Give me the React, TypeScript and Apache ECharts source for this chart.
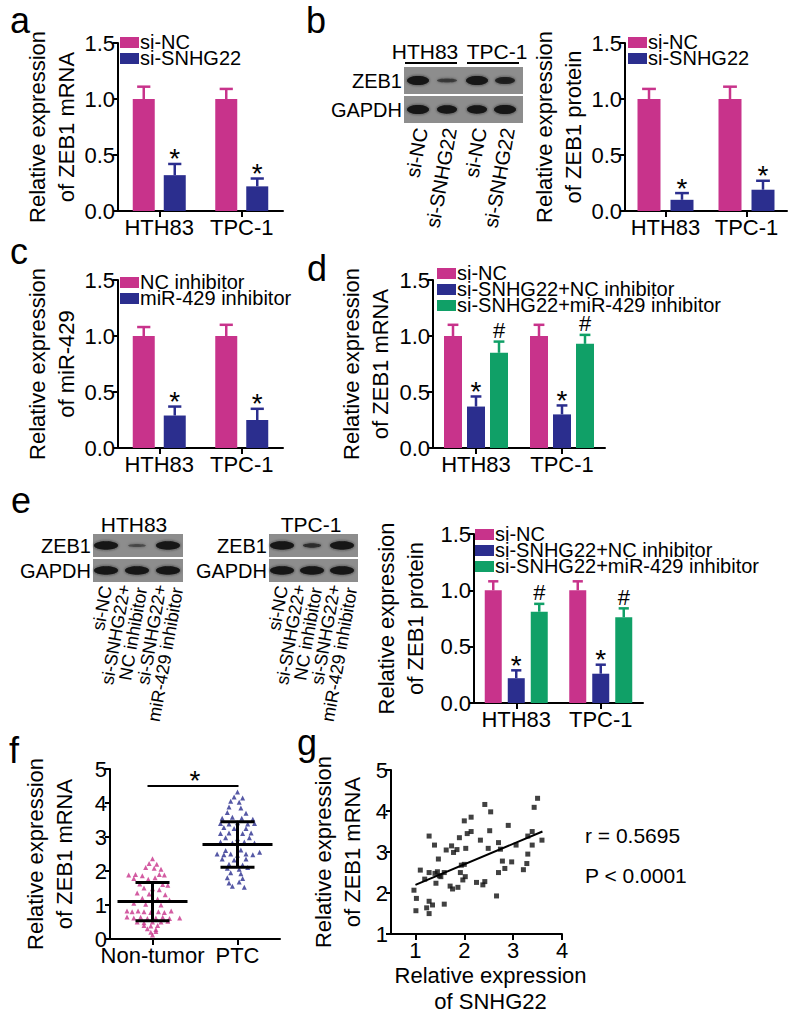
import React, { useEffect, useRef } from "react";
import * as echarts from "echarts";

const FONT = '"Liberation Sans", Arial, Helvetica, sans-serif';
const PINK = "#C8338B";
const NAVY = "#2B2E8E";
const GREEN = "#10A067";

const cellLines = ["HTH83", "TPC-1"];

// ---- panel a: ZEB1 mRNA after SNHG22 knockdown
const aNames = ["si-NC", "si-SNHG22"];
const aMeans = [[1.0, 1.0], [0.32, 0.22]];
const aErrs = [[0.11, 0.09], [0.10, 0.07]];
const aMarks = ["", "*"];

// ---- panel b: ZEB1 protein after SNHG22 knockdown
const bNames = ["si-NC", "si-SNHG22"];
const bMeans = [[1.0, 1.0], [0.10, 0.19]];
const bErrs = [[0.09, 0.11], [0.06, 0.08]];
const bMarks = ["", "*"];
const bLanes = ["si-NC", "si-SNHG22", "si-NC", "si-SNHG22"];

// ---- panel c: miR-429
const cNames = ["NC inhibitor", "miR-429 inhibitor"];
const cMeans = [[1.0, 1.0], [0.29, 0.25]];
const cErrs = [[0.08, 0.10], [0.08, 0.10]];
const cMarks = ["", "*"];

// ---- panel d: ZEB1 mRNA rescue
const dNames = ["si-NC", "si-SNHG22+NC inhibitor", "si-SNHG22+miR-429 inhibitor"];
const dMeans = [[1.0, 1.0], [0.37, 0.30], [0.85, 0.93]];
const dErrs = [[0.10, 0.10], [0.09, 0.08], [0.10, 0.08]];
const dMarks = ["", "*", "#"];

// ---- panel e: ZEB1 protein rescue
const eNames = ["si-NC", "si-SNHG22+NC inhibitor", "si-SNHG22+miR-429 inhibitor"];
const eMeans = [[1.0, 1.0], [0.22, 0.26], [0.81, 0.76]];
const eErrs = [[0.08, 0.08], [0.07, 0.08], [0.07, 0.08]];
const eMarks = ["", "*", "#"];
const eLanes = [["si-NC"], ["si-SNHG22+", "NC inhibitor"], ["si-SNHG22+", "miR-429 inhibitor"]];

// ---- panel f: tissues
const fGroups = ["Non-tumor", "PTC"];
const nonTumorValues = [
  2.36, 2.22, 2.2, 2.1, 2.08, 2.05, 1.88, 1.9, 1.86, 1.9, 1.88, 1.78, 1.76, 1.8,
  1.62, 1.6, 1.58, 1.5, 1.48, 1.45, 1.35, 1.32, 1.3, 1.2, 1.18, 1.15, 1.05, 1.02,
  1.0, 0.82, 0.8, 0.82, 0.8, 0.78, 0.8, 0.78, 0.82, 0.65, 0.62, 0.64, 0.6, 0.62,
  0.64, 0.6, 0.62, 0.5, 0.48, 0.5, 0.5, 0.52, 0.4, 0.38, 0.4, 0.3, 0.28, 0.2, 0.22, 0.12,
];
const nonTumorJitter = [
  0, -0.04, 0.05, -0.08, 0.02, 0.1, -0.28, -0.2, -0.12, 0.08, 0.14, -0.22, -0.05, 0.03,
  -0.15, 0.12, 0.18, -0.1, 0.0, 0.08, -0.18, -0.04, 0.15, -0.12, 0.06, 0.2, -0.22, -0.08,
  0.1, -0.3, -0.24, -0.17, -0.1, -0.02, 0.07, 0.14, 0.22, -0.3, -0.22, -0.14, -0.06, 0.04,
  0.12, 0.2, 0.32, -0.18, -0.1, 0.0, 0.1, 0.18, -0.1, -0.02, 0.06, -0.06, 0.04, -0.02, 0.04, 0.0,
];
const ptcValues = [
  4.32, 4.18, 4.15, 4.05, 4.02, 3.88, 3.85, 3.72, 3.7, 3.55, 3.58, 3.55, 3.52, 3.4,
  3.38, 3.42, 3.38, 3.4, 3.28, 3.25, 3.25, 3.1, 3.12, 3.1, 3.12, 2.98, 2.95, 2.98,
  2.85, 2.82, 2.85, 2.82, 2.5, 2.48, 2.5, 2.46, 2.5, 2.48, 2.55, 2.6, 2.62, 2.35,
  2.32, 2.35, 2.2, 2.18, 2.08, 2.05, 2.1, 1.95, 1.92, 1.8, 1.78, 1.65, 1.68, 1.55, 1.52,
];
const ptcJitter = [
  0.0, -0.04, 0.06, -0.08, 0.02, -0.1, 0.04, -0.12, 0.1, -0.18, -0.06, 0.05, 0.18, -0.2,
  -0.1, 0.0, 0.12, 0.2, -0.16, -0.04, 0.1, -0.2, -0.1, 0.06, 0.16, -0.14, 0.0, 0.14,
  -0.2, -0.06, 0.08, 0.2, -0.24, -0.16, -0.08, 0.0, 0.1, 0.18, 0.26, -0.14, 0.04, -0.18,
  -0.04, 0.1, -0.1, 0.06, -0.12, 0.02, 0.12, -0.08, 0.04, -0.12, 0.06, -0.1, 0.02, -0.06, 0.08,
];
const fMeans = [1.1, 2.78];
const fSDs = [0.56, 0.67];
const fSigLevel = 4.5;

// ---- panel g: correlation
const snhg22 = [
  0.97, 1.02, 1.01, 1.10, 1.19, 1.23, 1.28, 1.28, 1.28, 1.28, 1.35, 1.39, 1.40, 1.42,
  1.45, 1.47, 1.49, 1.52, 1.59, 1.59, 1.63, 1.71, 1.74, 1.76, 1.78, 1.85, 1.87, 1.90,
  1.92, 1.94, 1.97, 2.00, 2.00, 2.02, 2.03, 2.06, 2.14, 2.14, 2.25, 2.33, 2.38, 2.42,
  2.42, 2.49, 2.52, 2.54, 2.66, 2.70, 2.70, 2.74, 2.78, 2.83, 2.90, 2.97, 3.06, 3.21,
  3.28, 3.30, 3.30, 3.39, 3.39, 3.43, 3.50, 3.59,
];
const zeb1 = [
  2.07, 1.87, 1.57, 2.56, 2.34, 1.64, 3.39, 2.50, 1.80, 1.50, 1.71, 3.17, 2.48, 2.24,
  2.52, 2.83, 2.42, 2.40, 2.50, 1.73, 3.05, 2.17, 3.15, 2.10, 2.99, 3.06, 2.14, 3.35,
  2.50, 2.68, 2.32, 3.76, 2.70, 2.40, 3.09, 3.45, 3.50, 3.85, 2.26, 3.29, 2.20, 2.28,
  4.16, 3.09, 3.52, 3.98, 1.93, 2.50, 3.23, 3.07, 2.78, 2.60, 3.65, 2.76, 3.17, 2.57,
  2.72, 2.95, 3.39, 3.17, 3.50, 4.09, 4.31, 3.29,
];
const fitX = [1.0, 3.6];
const fitY = [2.2, 3.5];
const corrTexts = ["r = 0.5695", "P < 0.0001"];

type BarPanel = {
  grid: { left: number; top: number; width: number; height: number };
  names: string[];
  colors: string[];
  means: number[][];
  errs: number[][];
  marks: string[];
  yName: string;
  nameGap: number;
  barWidth: number;
  gapPx: number;
  legend: { left: number; top: number };
};

const barPanels: BarPanel[] = [
  {
    grid: { left: 118, top: 43, width: 165, height: 168 },
    names: aNames, colors: [PINK, NAVY], means: aMeans, errs: aErrs, marks: aMarks,
    yName: "Relative expression\nof ZEB1 mRNA", nameGap: 34, barWidth: 22, gapPx: 9,
    legend: { left: 120, top: 37 },
  },
  {
    grid: { left: 625, top: 43, width: 162, height: 168 },
    names: bNames, colors: [PINK, NAVY], means: bMeans, errs: bErrs, marks: bMarks,
    yName: "Relative expression\nof ZEB1 protein", nameGap: 36, barWidth: 23, gapPx: 10,
    legend: { left: 628, top: 37 },
  },
  {
    grid: { left: 118, top: 280, width: 165, height: 168 },
    names: cNames, colors: [PINK, NAVY], means: cMeans, errs: cErrs, marks: cMarks,
    yName: "Relative expression\nof miR-429", nameGap: 34, barWidth: 22, gapPx: 9,
    legend: { left: 120, top: 277 },
  },
  {
    grid: { left: 433, top: 280, width: 172, height: 168 },
    names: dNames, colors: [PINK, NAVY, GREEN], means: dMeans, errs: dErrs, marks: dMarks,
    yName: "Relative expression\nof ZEB1 mRNA", nameGap: 38, barWidth: 18, gapPx: 5,
    legend: { left: 437, top: 268 },
  },
  {
    grid: { left: 474, top: 534, width: 169, height: 169 },
    names: eNames, colors: [PINK, NAVY, GREEN], means: eMeans, errs: eErrs, marks: eMarks,
    yName: "Relative expression\nof ZEB1 protein", nameGap: 44, barWidth: 17, gapPx: 6,
    legend: { left: 475, top: 529 },
  },
];

const labelStyle = { color: "#000", fontSize: 22, fontFamily: FONT };
const axisLine = { show: true, lineStyle: { color: "#000", width: 2 } };
const axisTick = { show: true, length: 5, lineStyle: { color: "#000", width: 2 } };
const nameStyle = { color: "#000", fontSize: 22, fontFamily: FONT, lineHeight: 29 };

function txt(text: string, x: number, y: number, size: number, extra: any = {}) {
  const { align, valign, ...rest } = extra;
  return {
    type: "text",
    x,
    y,
    silent: true,
    ...rest,
    style: {
      text,
      fill: "#000",
      fontSize: size,
      fontFamily: FONT,
      textAlign: align || "left",
      textVerticalAlign: valign || "middle",
    },
  };
}

type Band = [number, number, number]; // half width, half height, opacity

function blot(
  x: number, y: number, w: number, rowH: number, gap: number,
  lanes: number[], zebBands: Band[], gapdhBands: Band[], labelSize: number
) {
  const els: any[] = [];
  els.push({ type: "rect", shape: { x, y, width: w, height: rowH }, style: { fill: "#8d8d8d" }, silent: true });
  els.push({ type: "rect", shape: { x, y: y + rowH + gap, width: w, height: rowH }, style: { fill: "#8d8d8d" }, silent: true });
  const rows: [Band[], number][] = [[zebBands, y + rowH / 2], [gapdhBands, y + rowH + gap + rowH / 2]];
  rows.forEach(([bands, cy]) => {
    bands.forEach((bd, i) => {
      els.push({
        type: "ellipse",
        shape: { cx: lanes[i], cy, rx: bd[0], ry: bd[1] },
        style: { fill: "#141414", opacity: bd[2], shadowBlur: 3, shadowColor: "rgba(20,20,20,0.8)" },
        silent: true,
      });
    });
  });
  els.push(txt("ZEB1", x - 2, y + rowH / 2, labelSize, { align: "right" }));
  els.push(txt("GAPDH", x - 2, y + rowH + gap + rowH / 2, labelSize, { align: "right" }));
  return els;
}

function legendEls(left: number, top: number, names: string[], colors: string[]) {
  const els: any[] = [];
  names.forEach((nm, i) => {
    const y = top + i * 16;
    els.push({ type: "rect", shape: { x: left, y, width: 19, height: 11 }, style: { fill: colors[i] }, silent: true });
    els.push(txt(nm, left + 20, y + 5, 20));
  });
  return els;
}

function buildOption() {
  const option: any = {
    animation: false,
    backgroundColor: "#fff",
    textStyle: { fontFamily: FONT },
    grid: [],
    xAxis: [],
    yAxis: [],
    series: [],
    graphic: { elements: [] as any[] },
  };
  const g: any[] = option.graphic.elements;

  barPanels.forEach((p, k) => {
    option.grid.push({ ...p.grid });
    option.xAxis.push({
      type: "category",
      gridIndex: k,
      data: cellLines,
      axisLine,
      axisTick: { ...axisTick, length: 6, alignWithLabel: true },
      axisLabel: { ...labelStyle, margin: 5, interval: 0 },
    });
    option.yAxis.push({
      type: "value",
      gridIndex: k,
      min: 0,
      max: 1.5,
      interval: 0.5,
      axisLine,
      axisTick,
      splitLine: { show: false },
      axisLabel: { ...labelStyle, margin: 3, formatter: (v: number) => v.toFixed(1) },
      name: p.yName,
      nameLocation: "middle",
      nameGap: p.nameGap,
      nameTextStyle: nameStyle,
    });
    const n = p.names.length;
    p.names.forEach((nm, j) => {
      option.series.push({
        type: "bar",
        name: nm,
        xAxisIndex: k,
        yAxisIndex: k,
        data: p.means[j],
        barWidth: p.barWidth,
        barGap: `${(p.gapPx / p.barWidth) * 100}%`,
        itemStyle: { color: p.colors[j] },
        z: 2,
      });
      const offset = (j - (n - 1) / 2) * (p.barWidth + p.gapPx);
      const color = p.colors[j];
      const mark = p.marks[j];
      const bw = p.barWidth;
      option.series.push({
        type: "custom",
        xAxisIndex: k,
        yAxisIndex: k,
        z: 3,
        data: p.means[j].map((m, i) => [i, m, p.errs[j][i]]),
        encode: { x: 0, y: 1 },
        renderItem: (_params: any, api: any) => {
          const i = api.value(0);
          const m = api.value(1);
          const e = api.value(2);
          const b = api.coord([i, m]);
          const t = api.coord([i, m + e]);
          const x = b[0] + offset;
          const cw = bw * 0.6;
          const children: any[] = [
            { type: "line", shape: { x1: x, y1: b[1], x2: x, y2: t[1] }, style: { stroke: color, lineWidth: 2.5 } },
            { type: "line", shape: { x1: x - cw / 2, y1: t[1], x2: x + cw / 2, y2: t[1] }, style: { stroke: color, lineWidth: 2.5 } },
          ];
          if (mark === "*") {
            children.push({ type: "text", x, y: t[1] - 5, style: { text: "*", fill: "#000", fontSize: 28, fontFamily: FONT, textAlign: "center", textVerticalAlign: "middle" } });
          } else if (mark) {
            children.push({ type: "text", x, y: t[1] - 11, style: { text: mark, fill: "#000", fontSize: 22, fontFamily: FONT, textAlign: "center", textVerticalAlign: "middle" } });
          }
          return { type: "group", children };
        },
      });
    });
    g.push(...legendEls(p.legend.left, p.legend.top, p.names, p.colors));
  });

  // ---- panel f (grid 5)
  option.grid.push({ left: 110, top: 769, width: 170, height: 170 });
  option.xAxis.push({
    type: "category",
    gridIndex: 5,
    data: fGroups,
    axisLine,
    axisTick: { ...axisTick, length: 6, alignWithLabel: true },
    axisLabel: { ...labelStyle, margin: 5, interval: 0 },
  });
  option.yAxis.push({
    type: "value",
    gridIndex: 5,
    min: 0,
    max: 5,
    interval: 1,
    axisLine,
    axisTick,
    splitLine: { show: false },
    axisLabel: { ...labelStyle, margin: 3 },
    name: "Relative expression\nof ZEB1 mRNA",
    nameLocation: "middle",
    nameGap: 31,
    nameTextStyle: nameStyle,
  });
  // ---- panel g (grid 6)
  option.grid.push({ left: 391, top: 770, width: 171, height: 169 });
  option.xAxis.push({
    type: "value",
    gridIndex: 6,
    min: 0.5,
    max: 4,
    axisLine,
    axisTick: { ...axisTick, length: 6, customValues: [1, 2, 3, 4] },
    axisLabel: { ...labelStyle, margin: 5, customValues: [1, 2, 3, 4] },
    splitLine: { show: false },
    name: "Relative expression\nof SNHG22",
    nameLocation: "middle",
    nameGap: 24,
    nameTextStyle: { ...nameStyle, lineHeight: 26, padding: [0, 0, 0, 28] },
  });
  option.yAxis.push({
    type: "value",
    gridIndex: 6,
    min: 1,
    max: 5,
    interval: 1,
    axisLine,
    axisTick,
    splitLine: { show: false },
    axisLabel: { ...labelStyle, margin: 3 },
    name: "Relative expression\nof ZEB1 mRNA",
    nameLocation: "middle",
    nameGap: 24,
    nameTextStyle: nameStyle,
  });
  // hidden value x axis for the dot plot (index 7)
  option.xAxis.push({ type: "value", gridIndex: 5, min: 0, max: 2, show: false });

  option.series.push({
    type: "scatter",
    name: "Non-tumor",
    xAxisIndex: 7,
    yAxisIndex: 5,
    symbol: "triangle",
    symbolSize: 5,
    itemStyle: { color: PINK },
    data: nonTumorValues.map((v, i) => [0.5 + nonTumorJitter[i], v]),
  });
  option.series.push({
    type: "scatter",
    name: "PTC",
    xAxisIndex: 7,
    yAxisIndex: 5,
    symbol: "triangle",
    symbolSize: 5,
    itemStyle: { color: NAVY },
    data: ptcValues.map((v, i) => [1.5 + ptcJitter[i], v]),
  });
  option.series.push({
    type: "custom",
    xAxisIndex: 7,
    yAxisIndex: 5,
    z: 5,
    data: fMeans.map((m, i) => [0.5 + i, m, fSDs[i]]),
    encode: { x: 0, y: 1 },
    renderItem: (_p: any, api: any) => {
      const cx = api.value(0);
      const m = api.value(1);
      const sd = api.value(2);
      const c = api.coord([cx, m]);
      const lo = api.coord([cx, m - sd]);
      const hi = api.coord([cx, m + sd]);
      const st = { stroke: "#000", lineWidth: 3 };
      return {
        type: "group",
        children: [
          { type: "line", shape: { x1: c[0] - 35, y1: c[1], x2: c[0] + 35, y2: c[1] }, style: st },
          { type: "line", shape: { x1: c[0], y1: lo[1], x2: c[0], y2: hi[1] }, style: st },
          { type: "line", shape: { x1: c[0] - 17, y1: lo[1], x2: c[0] + 17, y2: lo[1] }, style: st },
          { type: "line", shape: { x1: c[0] - 17, y1: hi[1], x2: c[0] + 17, y2: hi[1] }, style: st },
        ],
      };
    },
  });
  option.series.push({
    type: "custom",
    xAxisIndex: 7,
    yAxisIndex: 5,
    z: 5,
    data: [[0.5, 1.5, fSigLevel]],
    encode: { x: 0, y: 2 },
    renderItem: (_p: any, api: any) => {
      const a = api.coord([api.value(0), api.value(2)]);
      const b = api.coord([api.value(1), api.value(2)]);
      return {
        type: "group",
        children: [
          { type: "line", shape: { x1: a[0] - 5, y1: a[1], x2: b[0] + 1, y2: a[1] }, style: { stroke: "#000", lineWidth: 2 } },
          { type: "text", x: (a[0] + b[0]) / 2, y: a[1] - 6, style: { text: "*", fill: "#000", fontSize: 28, fontFamily: FONT, textAlign: "center", textVerticalAlign: "middle" } },
        ],
      };
    },
  });

  option.series.push({
    type: "scatter",
    name: "samples",
    xAxisIndex: 6,
    yAxisIndex: 6,
    symbol: "rect",
    symbolSize: 5,
    itemStyle: { color: "#111" },
    data: snhg22.map((x, i) => [x, zeb1[i]]),
  });
  option.series.push({
    type: "line",
    name: "fit",
    xAxisIndex: 6,
    yAxisIndex: 6,
    symbol: "none",
    lineStyle: { color: "#000", width: 2 },
    data: fitX.map((x, i) => [x, fitY[i]]),
  });

  // panel letters
  const letters: [string, number, number][] = [
    ["a", 10, 20], ["b", 306, 20], ["c", 10, 251], ["d", 307, 268],
    ["e", 11, 500], ["f", 9, 750], ["g", 297, 742],
  ];
  letters.forEach(([l, x, y]) => g.push(txt(l, x, y, 36)));

  // panel b blot
  const bLaneX = [418, 447, 477, 505];
  g.push(...blot(404, 67, 119, 27, 2, bLaneX,
    [[11, 4.5, 1], [10, 2, 0.55], [11, 4.5, 1], [10, 3.5, 0.85]],
    [[11, 4.5, 1], [10, 4.2, 1], [10, 4.2, 1], [11, 4.5, 1]], 20));
  g.push(txt("HTH83", 425, 51, 21, { align: "center" }));
  g.push(txt("TPC-1", 497, 51, 21, { align: "center" }));
  g.push({ type: "line", shape: { x1: 405, y1: 63, x2: 457, y2: 63 }, style: { stroke: "#000", lineWidth: 2 }, silent: true });
  g.push({ type: "line", shape: { x1: 467, y1: 63, x2: 519, y2: 63 }, style: { stroke: "#000", lineWidth: 2 }, silent: true });
  const rot = (80 * Math.PI) / 180;
  bLanes.forEach((l, i) => {
    g.push(txt(l, bLaneX[i] + 3, 128, 20, { align: "right", rotation: rot }));
  });

  // panel e blots
  const eHthX = [106, 137, 168];
  const eTpcX = [282, 312, 342];
  g.push(...blot(93, 534, 90, 23, 2, eHthX,
    [[12, 4.2, 1], [9, 1.6, 0.45], [12, 4.2, 1]],
    [[12, 4.2, 1], [12, 4.2, 1], [12, 4.2, 1]], 20));
  g.push(...blot(269, 534, 89, 23, 2, eTpcX,
    [[12, 4.2, 1], [9, 2.2, 0.7], [12, 4.2, 1]],
    [[12, 4.2, 1], [12, 4.2, 1], [12, 4.2, 1]], 20));
  g.push(txt("HTH83", 134, 524, 21, { align: "center" }));
  g.push(txt("TPC-1", 311, 524, 21, { align: "center" }));
  const eShift = [0, -4, 1];
  const lineStep = 17;
  [eHthX, eTpcX].forEach((lanes) => {
    eLanes.forEach((lines, i) => {
      lines.forEach((line, k) => {
        const d = (k - (lines.length - 1) / 2) * lineStep;
        const ax = lanes[i] + eShift[i] + d * Math.sin(rot);
        const ay = 586 + d * Math.cos(rot);
        g.push(txt(line, ax, ay, 18, { align: "right", rotation: rot }));
      });
    });
  });

  // panel g statistics
  g.push(txt(corrTexts[0], 585, 835, 21));
  g.push(txt(corrTexts[1], 585, 875, 21));

  return option;
}

export default function App() {
  const ref = useRef<HTMLDivElement>(null);
  useEffect(() => {
    if (!ref.current) return;
    const chart = echarts.init(ref.current, undefined, { renderer: "svg" });
    chart.setOption(buildOption());
    return () => chart.dispose();
  }, []);
  return (
    <div
      ref={ref}
      style={{ position: "absolute", left: 0, top: 0, width: 800, height: 1015, background: "#fff" }}
    />
  );
}
